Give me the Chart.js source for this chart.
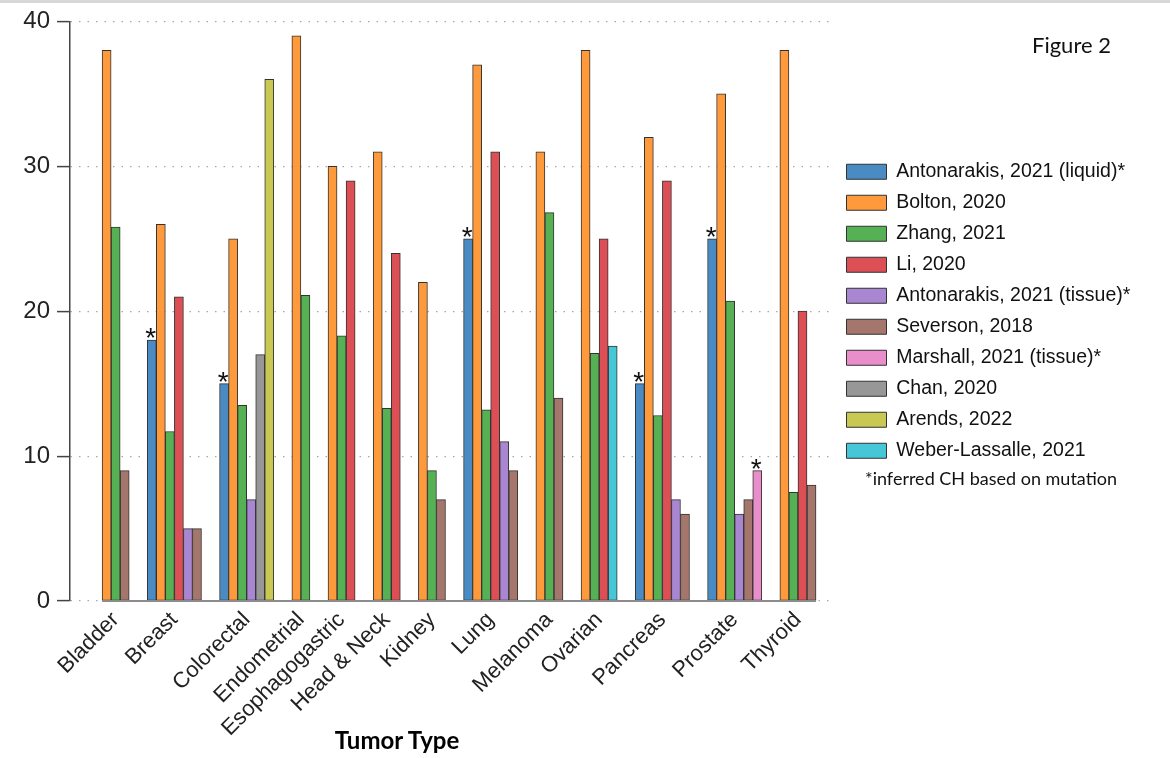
<!DOCTYPE html>
<html>
<head>
<meta charset="utf-8">
<script src="https://cdn.jsdelivr.net/npm/chart.js@4.4.1/dist/chart.umd.min.js"></script>
<style>
  html, body { margin: 0; padding: 0; background: #fff; }
  #wrap { position: relative; width: 1170px; height: 758px; }
  #topline { position: absolute; left: 0; top: 0; width: 1170px; height: 3px; background: #d8d8d8; }
  .note { position: absolute; font-family: Lato, "Open Sans", sans-serif; color: #111; white-space: nowrap; }
  #fig { left: 1032px; top: 31px; font-size: 22px; }
  #foot { left: 865px; top: 467px; font-size: 18px; }
  #xtitle { left: 397px; top: 725px; font-size: 24px; font-weight: bold; transform: translateX(-50%); color: #000; }
</style>
</head>
<body>
<div id="wrap">
  <canvas id="grafico" width="1170" height="758"></canvas>
  <div id="topline"></div>
  <div class="note" id="fig">Figure 2</div>
  <div class="note" id="foot">*inferred CH based on mutation</div>
  <div class="note" id="xtitle">Tumor Type</div>
</div>
<script>
// categories and series (null = no bar)
const tumorTypes = ['Bladder', 'Breast', 'Colorectal', 'Endometrial', 'Esophagogastric', 'Head & Neck',
  'Kidney', 'Lung', 'Melanoma', 'Ovarian', 'Pancreas', 'Prostate', 'Thyroid'];

const antonarakisLiquid = [null, 18, 15, null, null, null, null, 25, null, null, 15, 25, null];
const bolton            = [38, 26, 25, 39, 30, 31, 22, 37, 31, 38, 32, 35, 38];
const zhang             = [25.8, 11.7, 13.5, 21.1, 18.3, 13.3, 9, 13.2, 26.8, 17.1, 12.8, 20.7, 7.5];
const li                = [null, 21, null, null, 29, 24, null, 31, null, 25, 29, null, 20];
const antonarakisTissue = [null, 5, 7, null, null, null, null, 11, null, null, 7, 6, null];
const severson          = [9, 5, null, null, null, null, 7, 9, 14, null, 6, 7, 8];
const marshall          = [null, null, null, null, null, null, null, null, null, null, null, 9, null];
const chan              = [null, null, 17, null, null, null, null, null, null, null, null, null, null];
const arends            = [null, null, 36, null, null, null, null, null, null, null, null, null, null];
const weberLassalle     = [null, null, null, null, null, null, null, null, null, 17.6, null, null, null];

const seriesNames = ['Antonarakis, 2021 (liquid)*', 'Bolton, 2020', 'Zhang, 2021', 'Li, 2020',
  'Antonarakis, 2021 (tissue)*', 'Severson, 2018', 'Marshall, 2021 (tissue)*', 'Chan, 2020',
  'Arends, 2022', 'Weber-Lassalle, 2021'];
const seriesValues = [antonarakisLiquid, bolton, zhang, li, antonarakisTissue, severson,
  marshall, chan, arends, weberLassalle];
const seriesColors = ['#4a8bc4', '#ff9a3c', '#55b153', '#db4f55', '#a886d1', '#a5766b',
  '#ea8ecb', '#979797', '#c9c853', '#45c7d7'];
// series whose bars carry an asterisk
const starredSeries = [0, 6];

const yTicks = [0, 10, 20, 30, 40];

// bars are packed inside each tumor type (only present studies), 2 empty slots between groups
const groupGap = 2;
const slotPadLeft = 3.55;
const slotPadRight = 2.1;

const points = seriesValues.map(() => []);
const groupCenters = [];
let slot = 0;
tumorTypes.forEach((t, c) => {
  const start = slot;
  seriesValues.forEach((vals, s) => {
    if (vals[c] !== null) {
      points[s].push({x: slot + 0.5, y: vals[c]});
      slot++;
    }
  });
  groupCenters.push((start + slot) / 2);
  slot += groupGap;
});
const lastSlot = slot - groupGap;

const asterisks = {
  id: 'asterisks',
  afterDatasetsDraw(chart) {
    const ctx = chart.ctx;
    ctx.save();
    // baseline under the bars
    let x0 = Infinity, x1 = -Infinity;
    chart.data.datasets.forEach((ds, i) => {
      chart.getDatasetMeta(i).data.forEach(bar => {
        x0 = Math.min(x0, bar.x - bar.width / 2);
        x1 = Math.max(x1, bar.x + bar.width / 2);
      });
    });
    ctx.strokeStyle = '#8c8c8c';
    ctx.lineWidth = 2;
    ctx.beginPath();
    ctx.moveTo(x0, chart.chartArea.bottom);
    ctx.lineTo(x1, chart.chartArea.bottom);
    ctx.stroke();

    ctx.fillStyle = '#111';
    ctx.font = '28px "Liberation Sans", Arial, sans-serif';
    ctx.textAlign = 'center';
    ctx.textBaseline = 'alphabetic';
    starredSeries.forEach(i => {
      chart.getDatasetMeta(i).data.forEach(bar => {
        ctx.fillText('*', bar.x - 1, bar.y + 7);
      });
    });
    ctx.restore();
  }
};

const legendWidth = {
  id: 'legendWidth',
  beforeInit(chart) {
    const fit = chart.legend.fit;
    chart.legend.fit = function () {
      fit.call(this);
      this.width = 335;
    };
  }
};

const ctx = document.getElementById('grafico').getContext('2d');

new Chart(ctx, {
  type: 'bar',
  data: {
    datasets: seriesNames.map((name, i) => ({
      label: name,
      data: points[i],
      backgroundColor: seriesColors[i],
      borderColor: '#333',
      borderWidth: 1,
      borderSkipped: false,
      grouped: false,
      categoryPercentage: 1,
      barPercentage: 1
    }))
  },
  plugins: [asterisks, legendWidth],
  options: {
    responsive: false,
    animation: false,
    layout: { padding: { top: 15, left: 0, right: 0, bottom: 0 } },
    plugins: {
      tooltip: { enabled: false },
      legend: {
        position: 'right',
        align: 'start',
        title: { display: true, text: '', font: { size: 10, lineHeight: 1 }, padding: { top: 0, bottom: 125.5 } },
        labels: {
          boxWidth: 40,
          boxHeight: 15,
          padding: 11.5,
          color: '#111',
          font: { family: '"Liberation Sans", Arial, sans-serif', size: 19.5 }
        }
      }
    },
    scales: {
      x: {
        type: 'linear',
        offset: false,
        min: -slotPadLeft,
        max: lastSlot + slotPadRight,
        grid: { display: false, drawTicks: false, offset: false },
        border: { display: false },
        afterBuildTicks(scale) {
          scale.ticks = groupCenters.map(v => ({value: v}));
        },
        afterFit(scale) { scale.height = 157; },
        ticks: {
          autoSkip: false,
          maxRotation: 45,
          minRotation: 45,
          padding: 6,
          color: '#222',
          font: { family: '"Liberation Sans", Arial, sans-serif', size: 22 },
          callback(value, index) { return tumorTypes[index]; }
        }
      },
      y: {
        min: 0,
        max: 40,
        afterBuildTicks(scale) {
          scale.ticks = yTicks.map(v => ({value: v}));
        },
        afterFit(scale) { scale.width = 70; },
        grid: {
          color: '#a8a8a8',
          lineWidth: 1.2,
          tickLength: 13,
          tickColor: '#444',
          tickWidth: 1.5,
          tickBorderDash: []
        },
        border: { display: true, color: '#444', width: 1.5, dash: [1.5, 7] },
        ticks: {
          padding: 7,
          color: '#222',
          font: { family: '"Liberation Sans", Arial, sans-serif', size: 24 }
        }
      }
    }
  }
});
</script>
</body>
</html>
